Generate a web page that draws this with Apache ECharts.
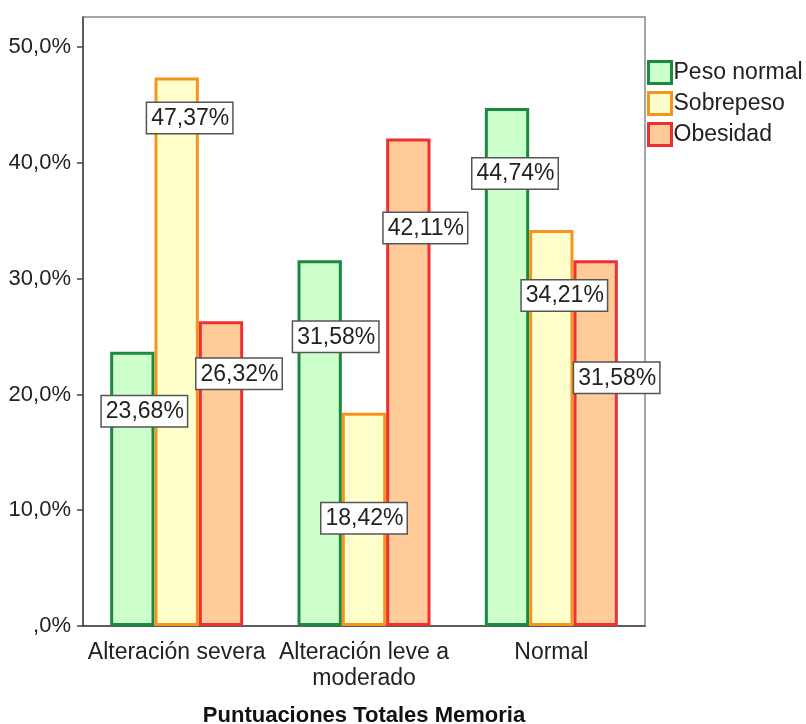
<!DOCTYPE html>
<html>
<head>
<meta charset="utf-8">
<script src="https://cdn.jsdelivr.net/npm/echarts@6/dist/echarts.min.js"></script>
<style>html,body{margin:0;padding:0;background:#fff}#c{width:806px;height:724px}</style>
</head>
<body>
<div id="c"></div>
<script>
const categories = ['Alteración severa', 'Alteración leve a\nmoderado', 'Normal'];
const seriesNames = ['Peso normal', 'Sobrepeso', 'Obesidad'];
const pesoNormal = [23.68, 31.58, 44.74];
const sobrepeso = [47.37, 18.42, 34.21];
const obesidad = [26.32, 42.11, 31.58];
const yTicks = [0, 10, 20, 30, 40, 50];
const xTitle = 'Puntuaciones Totales Memoria';

// label offsets (styling only): [dx, dy from bar top to label centre]
const labelOffsets = [
  [[12, 62], [16, 79], [8, 68]],
  [[13, 43], [0, 108], [13, 68]],
  [[18, 55], [17, 92], [21, 120]]
];
const fills = ['#ccffcc', '#ffffcc', '#ffcc99'];
const borders = ['#1b8a3f', '#f7941d', '#ee3035'];
const FONT = '"Liberation Sans", Arial, sans-serif';
const FS = 23;
const BOXH = 35;

function fmt(v) {
  return v.toFixed(2).replace('.', ',') + '%';
}

const allData = [pesoNormal, sobrepeso, obesidad];
const series = allData.map((vals, si) => ({
  name: seriesNames[si],
  type: 'bar',
  barGap: '0%',
  barCategoryGap: '29%',
  itemStyle: { color: fills[si], borderColor: borders[si], borderWidth: 3 },
  emphasis: { disabled: true },
  data: vals.map((v, ci) => ({
    value: v,
    label: {
      show: true,
      position: 'insideTop',
      distance: 0,
      offset: [labelOffsets[si][ci][0], labelOffsets[si][ci][1] - BOXH / 2],
      formatter: p => fmt(p.value),
      fontFamily: FONT,
      fontSize: FS,
      color: '#222',
      backgroundColor: '#fff',
      borderColor: '#555',
      borderWidth: 1.5,
      padding: [4, 3, 3, 4]
    }
  }))
}));

const chart = echarts.init(document.getElementById('c'));
chart.setOption({
  animation: false,
  backgroundColor: '#fff',
  grid: {
    left: 83, right: 161, top: 17, bottom: 98,
    outerBoundsMode: 'none',
    containLabel: false,
    show: true, borderColor: '#888', borderWidth: 1.5, backgroundColor: '#fff'
  },
  legend: {
    orient: 'vertical',
    left: 647, top: 60,
    padding: 0,
    icon: 'rect',
    itemWidth: 23, itemHeight: 22, itemGap: 6,
    itemStyle: { borderWidth: 3 },
    textStyle: { fontFamily: FONT, fontSize: FS, color: '#222', padding: [0, 0, 0, -3] },
    data: seriesNames
  },
  xAxis: {
    type: 'category',
    data: categories,
    axisLine: { lineStyle: { color: '#444', width: 1.5 } },
    axisTick: { alignWithLabel: true, length: 8, lineStyle: { color: '#444', width: 1.5 } },
    axisLabel: { interval: 0, fontFamily: FONT, fontSize: FS, color: '#222', margin: 14, lineHeight: 26 },
    name: xTitle,
    nameLocation: 'middle',
    nameGap: 79,
    nameTextStyle: { fontFamily: FONT, fontSize: 22, fontWeight: 'bold', color: '#111' }
  },
  yAxis: {
    type: 'value',
    min: 0, max: 52.6,
    splitLine: { show: false },
    axisLine: { show: true, lineStyle: { color: '#444', width: 1.5 } },
    axisTick: { show: true, length: 6, customValues: yTicks, lineStyle: { color: '#444', width: 1.5 } },
    axisLabel: {
      customValues: yTicks,
      fontFamily: FONT, fontSize: 22, color: '#222', margin: 12,
      formatter: v => (v === 0 ? ',0%' : v.toFixed(1).replace('.', ',') + '%')
    }
  },
  series: series
});
</script>
</body>
</html>
